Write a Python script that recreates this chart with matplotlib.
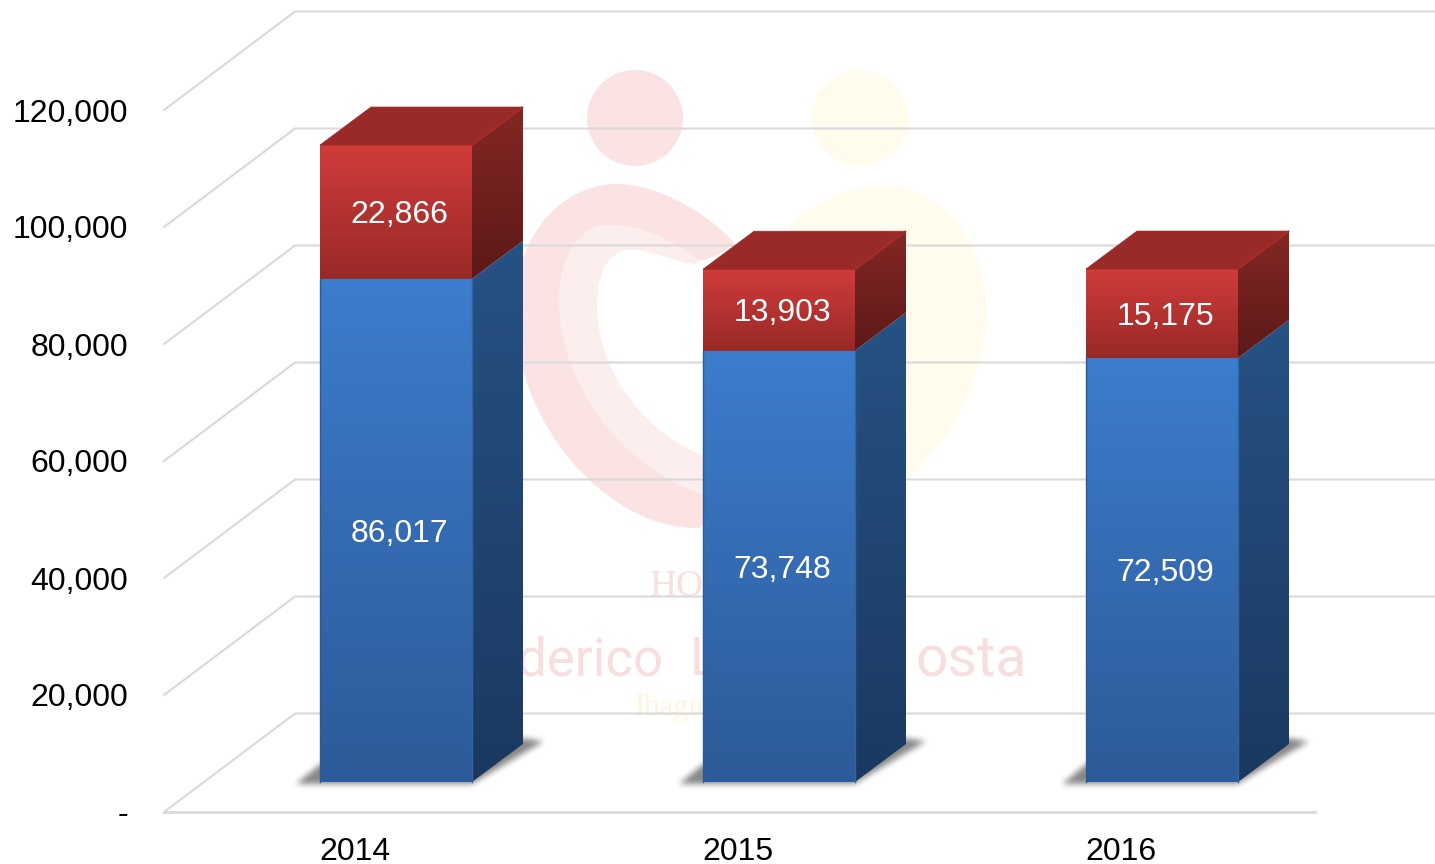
import numpy as np
import matplotlib
matplotlib.use('Agg')
import matplotlib.pyplot as plt
from matplotlib.colors import LinearSegmentedColormap
from matplotlib.patches import Circle, PathPatch, Polygon
from matplotlib.path import Path

years = ['2014', '2015', '2016']
blue_vals = [86017, 73748, 72509]
red_vals = [22866, 13903, 15175]
tick_vals = [0, 20000, 40000, 60000, 80000, 100000, 120000]
tick_labels = ['-', '20,000', '40,000', '60,000', '80,000', '100,000', '120,000']

W, H = 1435, 864
# px per category / per value, and where 0 / first bar sit in the picture
PX_CAT = 383.0
PX_VAL = 117.0 / 20000
X0_PX = 396.0
Y0_PX = 812.0


def dx(px):
    return px / PX_CAT


def dy(px):
    return px / PX_VAL


fig = plt.figure(figsize=(W / 100, H / 100), dpi=100)
plt.rcParams['font.family'] = ['Liberation Sans', 'DejaVu Sans']

# watermark layer, in picture pixels
bg = fig.add_axes([0, 0, 1, 1])
bg.set_xlim(0, W)
bg.set_ylim(H, 0)
bg.axis('off')

pink = '#fbe3e3'
pink2 = '#fdeeee'
yellow = '#fffcee'
bg.add_patch(Circle((635, 118), 48, fc=pink, ec='none'))
bg.add_patch(Circle((860, 118), 48, fc=yellow, ec='none'))


def blob(pts, color):
    codes = [Path.MOVETO] + [Path.CURVE4] * (len(pts) - 1)
    bg.add_patch(PathPatch(Path(pts, codes), fc=color, ec='none'))


blob([(790, 225), (830, 190), (875, 180), (905, 188),
      (965, 205), (990, 270), (986, 325),
      (980, 400), (930, 470), (880, 500),
      (850, 480), (800, 300), (790, 225)], yellow)
blob([(734, 243), (700, 205), (650, 184), (617, 184),
      (560, 184), (510, 240), (515, 320),
      (520, 430), (610, 530), (700, 528),
      (720, 500), (720, 470), (703, 456),
      (650, 435), (600, 380), (597, 312),
      (595, 270), (610, 245), (640, 250),
      (670, 255), (700, 275), (734, 243)], pink)
blob([(700, 262), (670, 235), (630, 222), (600, 225),
      (570, 235), (555, 270), (560, 320),
      (570, 400), (630, 470), (703, 495),
      (720, 480), (715, 465), (703, 456),
      (650, 435), (600, 380), (597, 312),
      (595, 270), (610, 245), (640, 250),
      (665, 254), (690, 268), (700, 262)], pink2)

wm_pink = '#f7dfe0'
bg.text(650, 596, 'HO', family='Liberation Serif', fontsize=27,
        color='#f8dfdf', ha='left', va='baseline')
# only the parts of the logo lettering that show between the bars
bg.text(664, 675, 'Federico', family='Roboto', fontsize=38, color=wm_pink, ha='right', va='baseline')
bg.text(690, 675, 'L', family='Roboto', fontsize=38, color=wm_pink, ha='left', va='baseline')
bg.text(1027, 675, 'osta', family='Roboto', fontsize=41, color=wm_pink, ha='right', va='baseline')
bg.text(635, 716, 'Ibagué', family='Liberation Serif', fontsize=22,
        color='#fbf7de', ha='left', va='baseline')

# chart layer
ax = fig.add_axes([0, 0, 1, 1])
ax.patch.set_alpha(0)
ax.set_xlim(-X0_PX / PX_CAT, (W - X0_PX) / PX_CAT)
ax.set_ylim(-dy(H - Y0_PX), dy(Y0_PX))
ylim = ax.get_ylim()
xlim = ax.get_xlim()
ax.axis('off')

grid_color = '#d9d9d9'
wall_x0 = dx(164 - X0_PX)
wall_dx = dx(131)
wall_dy = dy(98.5)
wall_x1 = xlim[1]
for v in tick_vals:
    ax.plot([wall_x0, wall_x0 + wall_dx, wall_x1], [v, v + wall_dy, v + wall_dy],
            color=grid_color, lw=1.5, zorder=1, solid_joinstyle='miter')
ax.plot([wall_x0, dx(1315 - X0_PX)], [0, 0], color=grid_color, lw=2, zorder=1)

for v, lab in zip(tick_vals, tick_labels):
    ax.text(dx(128 - X0_PX), v, lab, fontsize=23, color='black', ha='right', va='center_baseline')


def gradient_poly(pts, top, bottom, z):
    cmap = LinearSegmentedColormap.from_list('g', [top, bottom])
    pts = np.array(pts)
    xa, xb = pts[:, 0].min(), pts[:, 0].max()
    ya, yb = pts[:, 1].min(), pts[:, 1].max()
    im = ax.imshow(np.linspace(0, 1, 256).reshape(-1, 1), cmap=cmap, aspect='auto',
                   extent=[xa, xb, ya, yb], origin='upper', zorder=z, interpolation='bilinear')
    clip = Polygon(pts, closed=True, transform=ax.transData, fc='none', ec='none')
    ax.add_patch(clip)
    im.set_clip_path(clip)


def soft_shadow(pts, z, blur=7, strength=0.62):
    # rasterise the polygon at about 1 px and box-blur it twice
    pts = np.array(pts)
    pad_x, pad_y = dx(12), dy(12)
    xa, xb = pts[:, 0].min() - pad_x, pts[:, 0].max() + pad_x
    ya, yb = pts[:, 1].min() - pad_y, pts[:, 1].max() + pad_y
    nx = int((xb - xa) * PX_CAT)
    ny = int((yb - ya) * PX_VAL)
    gx, gy = np.meshgrid(np.linspace(xa, xb, nx), np.linspace(ya, yb, ny))
    mask = Path(pts).contains_points(np.c_[gx.ravel(), gy.ravel()]).reshape(ny, nx).astype(float)
    kernel = np.ones(blur) / blur
    for _ in range(2):
        mask = np.apply_along_axis(lambda r: np.convolve(r, kernel, mode='same'), 1, mask)
        mask = np.apply_along_axis(lambda c: np.convolve(c, kernel, mode='same'), 0, mask)
    rgba = np.zeros((ny, nx, 4))
    rgba[..., :3] = 0.25
    rgba[..., 3] = mask * strength
    ax.imshow(rgba, aspect='auto', extent=[xa, xb, ya, yb], origin='lower', zorder=z,
              interpolation='bilinear')


half = dx(76)
depth_x = dx(51)
depth_y = dy(38)
base = dy(30)

for i, year in enumerate(years):
    left, right = i - half, i + half
    blue_top = base + blue_vals[i]
    red_top = blue_top + red_vals[i]

    soft_shadow([(left - dx(24), base - dy(2)),
                 (left, base + dy(18)),
                 (right + depth_x, base + depth_y + dy(6)),
                 (right + depth_x + dx(20), base + depth_y + dy(3)),
                 (right, base - dy(2)),
                 (left, base - dy(2))], 2)

    # blue segment
    gradient_poly([(right, base), (right + depth_x, base + depth_y),
                   (right + depth_x, blue_top + depth_y), (right, blue_top)],
                  '#265284', '#1b3960', 3)
    gradient_poly([(left, base), (right, base), (right, blue_top), (left, blue_top)],
                  '#3c7dcd', '#2d5a98', 4)
    # red segment
    gradient_poly([(right, blue_top), (right + depth_x, blue_top + depth_y),
                   (right + depth_x, red_top + depth_y), (right, red_top)],
                  '#842724', '#5c1918', 3)
    gradient_poly([(left, blue_top), (right, blue_top), (right, red_top), (left, red_top)],
                  '#d03c3a', '#982927', 4)
    ax.add_patch(Polygon([(left, red_top), (right, red_top),
                          (right + depth_x, red_top + depth_y), (left + depth_x, red_top + depth_y)],
                         closed=True, fc='#9a2a28', ec='#9a2a28', lw=0.5, zorder=4))
    # thin edges between front and side
    ax.plot([right, right], [base, blue_top], color='#2f65a6', lw=1, zorder=5)
    ax.plot([left, left], [base, blue_top], color='#2b5a96', lw=1, zorder=5)
    ax.plot([right, right + depth_x], [red_top, red_top + depth_y], color='#a32d2b', lw=1.5,
            zorder=5, solid_capstyle='butt')

    ax.text(i + dx(3), base + blue_vals[i] / 2, f'{blue_vals[i]:,}', color='white', fontsize=23,
            ha='center', va='center_baseline', zorder=6)
    ax.text(i + dx(3), blue_top + red_vals[i] / 2, f'{red_vals[i]:,}', color='white', fontsize=23,
            ha='center', va='center_baseline', zorder=6)
    ax.text(i - dx(41), -dy(36), year, color='black', fontsize=23, ha='center', va='center_baseline')

ax.set_xlim(xlim)
ax.set_ylim(ylim)

fig.savefig('out.png', dpi=100)
